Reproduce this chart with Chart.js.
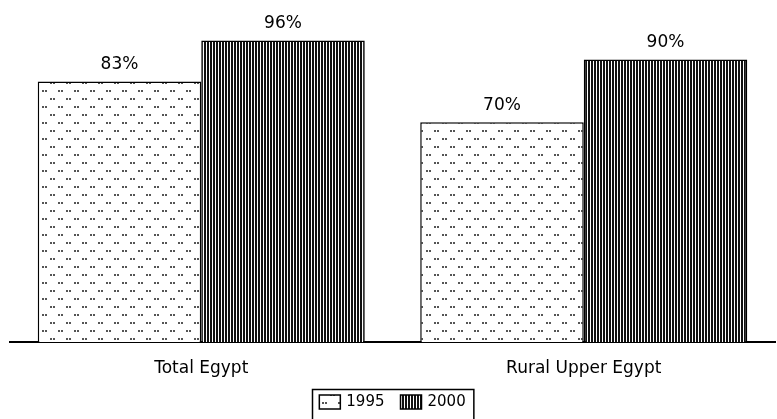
<!DOCTYPE html>
<html>
<head>
<meta charset="utf-8">
<script src="https://cdn.jsdelivr.net/npm/chart.js@4"></script>
<style>
  html, body { margin: 0; padding: 0; background: #fff; }
  #wrap { width: 777px; height: 419px; }
</style>
</head>
<body>
<div id="wrap"><canvas id="chart" width="777" height="419"></canvas></div>
<script>
"use strict";

const categories = ["Total Egypt", "Rural Upper Egypt"];
const years = ["1995", "2000"];
const values1995 = [83, 70];
const values2000 = [96, 90];

const FONT = "'DejaVu Sans', sans-serif";

function dotPattern() {
    const c = document.createElement("canvas");
    c.width = 16;
    c.height = 16;
    const g = c.getContext("2d");
    g.fillStyle = "#fff";
    g.fillRect(0, 0, 16, 16);
    g.fillStyle = "#555";
    g.fillRect(2, 2, 2, 2);
    g.fillRect(5, 2, 2, 2);
    g.fillRect(10, 10, 2, 2);
    g.fillRect(13, 10, 2, 2);
    return g.createPattern(c, "repeat");
}

function stripePattern() {
    const c = document.createElement("canvas");
    c.width = 3;
    c.height = 4;
    const g = c.getContext("2d");
    g.fillStyle = "#fff";
    g.fillRect(0, 0, 3, 4);
    g.fillStyle = "#111";
    g.fillRect(0, 0, 2, 4);
    return g.createPattern(c, "repeat");
}

const valueLabels = {
    id: "valueLabels",
    afterDatasetsDraw(chart) {
        const ctx = chart.ctx;
        ctx.save();
        ctx.fillStyle = "#000";
        ctx.font = "17px " + FONT;
        ctx.textAlign = "center";
        ctx.textBaseline = "middle";
        chart.data.datasets.forEach((ds, i) => {
            chart.getDatasetMeta(i).data.forEach((bar, j) => {
                ctx.fillText(ds.data[j] + "%", bar.x, bar.y - 17);
            });
        });
        ctx.restore();
    }
};

// framed legend under the axis labels
const boxLegend = {
    id: "boxLegend",
    afterDraw(chart) {
        const ctx = chart.ctx;
        const sets = chart.data.datasets;
        const iconW = 21, iconH = 14, gap = 6, spacing = 16;
        ctx.save();
        ctx.font = "15px " + FONT;
        const widths = sets.map(ds => ctx.measureText(ds.label).width);
        let total = spacing * (sets.length - 1);
        widths.forEach(w => { total += iconW + gap + w; });
        const cx = (chart.chartArea.left + chart.chartArea.right) / 2;
        let x = cx - total / 2;
        const midY = 402;

        ctx.strokeStyle = "#000";
        ctx.lineWidth = 1.5;
        ctx.strokeRect(Math.round(x - 7) + 0.5, 389.5, total + 15, 34);

        ctx.textAlign = "left";
        ctx.textBaseline = "middle";
        sets.forEach((ds, i) => {
            ctx.fillStyle = ds.backgroundColor;
            ctx.fillRect(x, midY - iconH / 2, iconW, iconH);
            ctx.lineWidth = 1.5;
            ctx.strokeStyle = "#000";
            ctx.strokeRect(x, midY - iconH / 2, iconW, iconH);
            ctx.fillStyle = "#000";
            ctx.fillText(ds.label, x + iconW + gap, midY);
            x += iconW + gap + widths[i] + spacing;
        });
        ctx.restore();
    }
};

new Chart(document.getElementById("chart").getContext("2d"), {
    type: "bar",
    data: {
        labels: categories,
        datasets: [{
            label: years[0],
            data: values1995,
            backgroundColor: dotPattern(),
            borderColor: "#000",
            borderWidth: 1.5
        }, {
            label: years[1],
            data: values2000,
            backgroundColor: stripePattern(),
            borderColor: "#000",
            borderWidth: 1.5
        }]
    },
    options: {
        responsive: false,
        animation: false,
        devicePixelRatio: 1,
        categoryPercentage: 0.855,
        barPercentage: 1,
        layout: { padding: { left: 10, right: 2, top: 28, bottom: 37 } },
        scales: {
            x: {
                grid: { display: false },
                border: { display: true, color: "#000", width: 2 },
                ticks: {
                    color: "#000",
                    padding: 8,
                    font: { family: FONT, size: 17 }
                },
                afterFit(scale) { scale.height = 40; }
            },
            y: {
                display: false,
                min: 0,
                max: 100
            }
        },
        plugins: {
            legend: { display: false },
            tooltip: { enabled: false }
        }
    },
    plugins: [valueLabels, boxLegend]
});
</script>
</body>
</html>
